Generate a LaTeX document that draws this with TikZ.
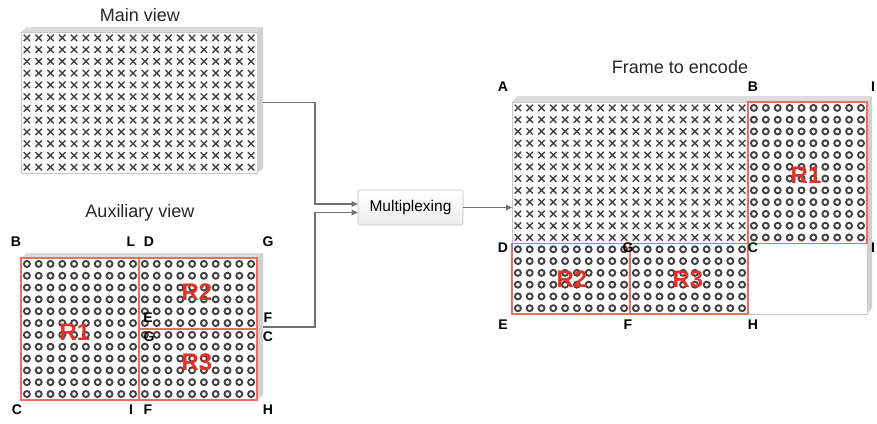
\documentclass[tikz,border=0pt]{standalone}
\usepackage{fontspec}
\setmainfont{Liberation Sans}
\usetikzlibrary{arrows.meta}

\definecolor{regred}{RGB}{238,108,96}
\definecolor{labred}{RGB}{226,50,40}
\definecolor{wire}{RGB}{112,112,112}
\definecolor{slabtop}{RGB}{220,220,220}
\definecolor{slabside}{RGB}{208,208,208}
\definecolor{markgray}{RGB}{66,66,66}

\tikzset{
  view/.style={draw=gray!45, line width=0.5pt, fill=white, inner sep=0pt, outer sep=0pt},
  title/.style={font=\fontsize{18}{20}\selectfont, text=black!85},
  corner/.style={font=\bfseries\fontsize{14}{15}\selectfont},
  region/.style={draw=regred, line width=1.5pt, inner sep=0pt, outer sep=0pt},
  rlabel/.style={font=\bfseries\fontsize{24}{26}\selectfont, text=labred},
  wireline/.style={draw=wire, line width=1.3pt},
  arrowwire/.style={wireline, -{Triangle[length=6pt,width=5.5pt]}},
  muxbox/.style={draw=gray!50, line width=0.6pt, rounded corners=1.5pt,
    top color=white, bottom color=gray!14, minimum width=105pt,
    minimum height=35pt, inner sep=0pt, font=\fontsize{15.5}{17}\selectfont},
  xm/.pic={\draw[markgray, line width=1.4pt] (-3.2,-3.2)--(3.2,3.2) (-3.2,3.2)--(3.2,-3.2);},
  om/.pic={\draw[markgray, line width=1.9pt] (0,0) circle[radius=3.0pt];},
}

\begin{document}
\begin{tikzpicture}[x=1pt,y=-1pt]
\useasboundingbox (0,0) rectangle (877,423);

% ---------- main view ----------
\node[title] (tmain) at (140,15) {Main view};
\node[view, minimum width=236pt, minimum height=141pt] (mainv) at (139,102.5) {};
\fill[slabtop] (mainv.north west) -- ++(6,-5) -- ([xshift=6pt,yshift=5pt]mainv.north east) -- (mainv.north east) -- cycle;
\fill[slabside] (mainv.north east) -- ++(6,-5) -- ([xshift=6pt,yshift=5pt]mainv.south east) -- (mainv.south east) -- cycle;
\foreach \i in {0,...,19} \foreach \j in {0,...,11}
  \pic at ({26.9+11.8*\i},{37.9+11.75*\j}) {xm};

% ---------- auxiliary view ----------
\node[title] (taux) at (140,213) {Auxiliary view};
\node[view, minimum width=236pt, minimum height=142pt] (auxv) at (139,329) {};
\fill[slabtop] (auxv.north west) -- ++(6,-5) -- ([xshift=6pt,yshift=5pt]auxv.north east) -- (auxv.north east) -- cycle;
\fill[slabside] (auxv.north east) -- ++(6,-5) -- ([xshift=6pt,yshift=5pt]auxv.south east) -- (auxv.south east) -- cycle;
\foreach \i in {0,...,19} \foreach \j in {0,...,11}
  \pic at ({26.9+11.8*\i},{263.9+11.83*\j}) {om};
\node[region, minimum width=118pt, minimum height=142pt] (aR1) at (80,329) {};
\node[region, minimum width=118pt, minimum height=71pt] (aR2) at (198,293.5) {};
\node[region, minimum width=118pt, minimum height=71pt] (aR3) at (198,364.5) {};
\node[rlabel] (laR1) at (75,332) {R1};
\node[rlabel] (laR2) at (197,292) {R2};
\node[rlabel] (laR3) at (197,362) {R3};

\node[corner] (aB)  at (16,242)  {B};
\node[corner] (aL)  at (131,242) {L};
\node[corner] (aD)  at (149,242) {D};
\node[corner] (aG)  at (268,242) {G};
\node[corner] (aE)  at (148,318) {E};
\node[corner] (aF)  at (268,318) {F};
\node[corner] (aG2) at (149,337) {G};
\node[corner] (aC)  at (268,337) {C};
\node[corner] (aC2) at (17,410)  {C};
\node[corner] (aI)  at (131,410) {I};
\node[corner] (aF2) at (148,410) {F};
\node[corner] (aH)  at (268,410) {H};

% ---------- multiplexer ----------
\node[muxbox] (mux) at (410.5,207.5) {Multiplexing};
\coordinate (bus) at (315,0);
\coordinate (in1) at ([yshift=3.5pt]mux.west);
\coordinate (in2) at ([yshift=-5pt]mux.west);
\coordinate (mainout) at ([xshift=6pt]mainv.east);
\coordinate (auxout) at ([xshift=6pt,yshift=2pt]auxv.east);
\draw[arrowwire] (mainout) -- (bus |- mainout) -- (bus |- in1) -- (in1);
\draw[arrowwire] (auxout) -- (bus |- auxout) -- (bus |- in2) -- (in2);

% ---------- frame to encode ----------
\node[title] (tframe) at (680,67) {Frame to encode};
\node[view, minimum width=355pt, minimum height=212pt] (frame) at (689.5,208) {};
\fill[slabtop] (frame.north west) -- ++(5,-6) -- ([xshift=5pt,yshift=6pt]frame.north east) -- (frame.north east) -- cycle;
\fill[slabside] (frame.north east) -- ++(5,-6) -- ([xshift=5pt,yshift=6pt]frame.south east) -- (frame.south east) -- cycle;
\draw[arrowwire] (mux.east) -- (frame.west |- mux.east);

\foreach \i in {0,...,19} \foreach \j in {0,...,11}
  \pic at ({517.9+11.8*\i},{107.9+11.78*\j}) {xm};
\foreach \i in {0,...,9} \foreach \j in {0,...,11}
  \pic at ({753.9+11.9*\i},{107.9+11.78*\j}) {om};
\foreach \i in {0,...,9} \foreach \j in {0,...,5}
  \pic at ({517.9+11.8*\i},{249.3+11.78*\j}) {om};
\foreach \i in {0,...,9} \foreach \j in {0,...,5}
  \pic at ({635.9+11.8*\i},{249.3+11.78*\j}) {om};

\node[region, minimum width=119pt, minimum height=141.4pt] (fR1) at (807.5,172.7) {};
\node[region, minimum width=118pt, minimum height=70.6pt] (fR2) at (571,278.7) {};
\node[region, minimum width=118pt, minimum height=70.6pt] (fR3) at (689,278.7) {};
\node[rlabel] (lfR1) at (806,175) {R1};
\node[rlabel] (lfR2) at (572,279) {R2};
\node[rlabel] (lfR3) at (688,279) {R3};

\node[corner] (fA)  at (503,87)  {A};
\node[corner] (fB)  at (753,87)  {B};
\node[corner] (fI)  at (873,87)  {I};
\node[corner] (fD)  at (503,248) {D};
\node[corner] (fG)  at (628,248) {G};
\node[corner] (fC)  at (753,248) {C};
\node[corner] (fI2) at (873,248) {I};
\node[corner] (fE)  at (503,325) {E};
\node[corner] (fF)  at (628,325) {F};
\node[corner] (fH)  at (753,325) {H};
\end{tikzpicture}
\end{document}
